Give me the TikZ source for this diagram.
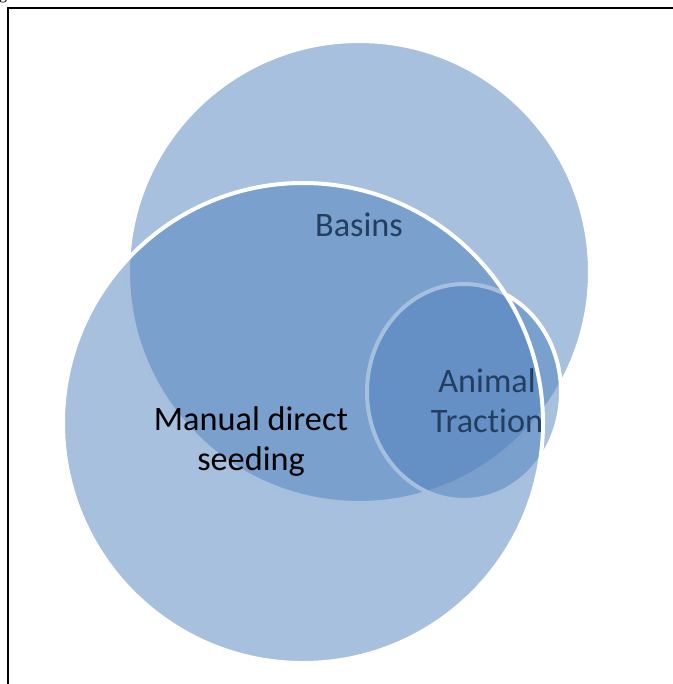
\documentclass[tikz,border=0pt]{standalone}
\usepackage{fontspec}
\setmainfont[Ligatures={NoCommon}]{Carlito}
\newfontfamily\fragfont{Liberation Serif}
\definecolor{vennblue}{RGB}{79,129,189}
\definecolor{labelnavy}{RGB}{36,62,96}
\begin{document}
\begin{tikzpicture}[x=0.75pt,y=-0.75pt,
  venn/.style={fill=vennblue, fill opacity=0.5, draw=white, draw opacity=1, line width=3pt},
  lbl/.style={font=\fontsize{25.7pt}{30pt}\selectfont, align=center, inner sep=0pt},
  frameline/.style={draw=black, line width=1.2pt}]
\useasboundingbox (0,0) rectangle (673,684);
\clip (0,0) rectangle (673,684);
\node[font=\fragfont\fontsize{12pt}{14pt}\selectfont, anchor=base, inner sep=0pt] (frag) at (3,0) {g};
\coordinate (fbl) at (8,690);
\coordinate (ftr) at (680,8);
\draw[frameline] (fbl) |- (ftr);
% circles
\path[venn] (359,272) circle[radius=231];
\path[venn] (464,392) circle[x radius=97, y radius=108];
\path[venn] (303,423) circle[radius=240];
% labels
\node[lbl, text=labelnavy] (basins) at (359,225) {Basins};
\node[lbl, text=labelnavy] (animal) at (487,401) {Animal\\Traction};
\node[lbl, text=black] (manual) at (251,442) {Manual direct\\seeding};
\end{tikzpicture}
\end{document}
